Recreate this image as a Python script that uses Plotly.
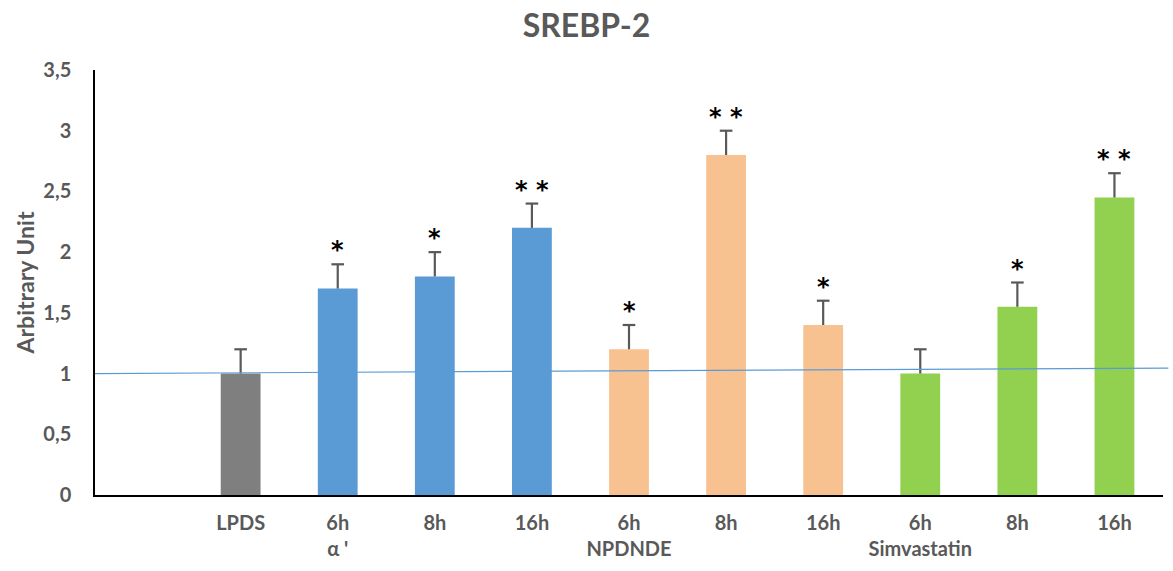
import plotly.graph_objects as go

# Categories along the x axis (first slot left empty)
tick_labels = ["", "LPDS", "6h<br>α '", "8h", "16h", "6h<br>NPDNDE", "8h", "16h",
               "6h<br>Simvastatin", "8h", "16h"]
values = [None, 1.0, 1.7, 1.8, 2.2, 1.2, 2.8, 1.4, 1.0, 1.55, 2.45]
errors = [None, 0.2, 0.2, 0.2, 0.2, 0.2, 0.2, 0.2, 0.2, 0.2, 0.2]
stars = ["", "", "*", "*", "* *", "*", "* *", "*", "", "*", "* *"]
bar_colors = ["white", "#7f7f7f", "#5b9bd5", "#5b9bd5", "#5b9bd5",
              "#f8c290", "#f8c290", "#f8c290", "#92d050", "#92d050", "#92d050"]
# Reference line: value at left and right ends of the plot
ref_line = [1.0, 1.045]

y_ticks = [0, 0.5, 1, 1.5, 2, 2.5, 3, 3.5]
y_tick_text = ["0", "0,5", "1", "1,5", "2", "2,5", "3", "3,5"]

FONT = "Lato"
GRAY = "#595959"
CAP = 0.065  # half-width of the error bar caps, in category units

xs = list(range(len(tick_labels)))

fig = go.Figure()
fig.add_trace(go.Bar(
    x=xs, y=values,
    marker=dict(color=bar_colors, line=dict(width=0)),
    showlegend=False, hoverinfo="skip",
))

# Upper-only error bars: stem from the bar top plus a cap
ex, ey = [], []
for xi, v, e in zip(xs, values, errors):
    if v is None:
        continue
    ex += [xi, xi, None, xi - CAP, xi + CAP, None]
    ey += [v, v + e, None, v + e, v + e, None]
fig.add_trace(go.Scatter(x=ex, y=ey, mode="lines",
                         line=dict(color=GRAY, width=2.2),
                         showlegend=False, hoverinfo="skip"))

for xi, v, e, s in zip(xs, values, errors, stars):
    if s and v is not None:
        fig.add_annotation(x=xi, y=v + e, text=f"<b>{s}</b>", showarrow=False,
                           yanchor="bottom", yshift=-2,
                           font=dict(family="DejaVu Sans", size=24,
                                     color="black"))

fig.add_shape(type="line", xref="paper", yref="y",
              x0=0, x1=1.005, y0=ref_line[0], y1=ref_line[1],
              line=dict(color="#5b9bd5", width=1.2), layer="above")

fig.update_layout(
    width=1173, height=571,
    margin=dict(l=95, r=10, t=70, b=76),
    plot_bgcolor="white", paper_bgcolor="white",
    bargap=0.59,
    title=dict(text="<b>SREBP-2</b>", x=0.5, xanchor="center",
               y=0.955, yanchor="middle",
               font=dict(family=FONT, size=32, color=GRAY)),
    xaxis=dict(range=[-0.5, 10.5], tickmode="array", tickvals=xs,
               ticktext=[f"<b>{t}</b>" for t in tick_labels],
               tickfont=dict(family=FONT, size=20, color=GRAY),
               showline=True, linecolor="black", linewidth=1.5,
               showgrid=False, zeroline=False, ticks="", ticklabelstandoff=9),
    yaxis=dict(range=[0, 3.5], tickmode="array", tickvals=y_ticks,
               ticktext=[f"<b>{t}</b>" for t in y_tick_text],
               tickfont=dict(family=FONT, size=20, color=GRAY),
               showline=True, linecolor="black", linewidth=1.5,
               showgrid=False, zeroline=False, ticks="", ticklabelstandoff=18,
               title=dict(text="<b>Arbitrary Unit</b>",
                          font=dict(family=FONT, size=23, color=GRAY),
                          standoff=2)),
)

fig.write_html("out.html")
